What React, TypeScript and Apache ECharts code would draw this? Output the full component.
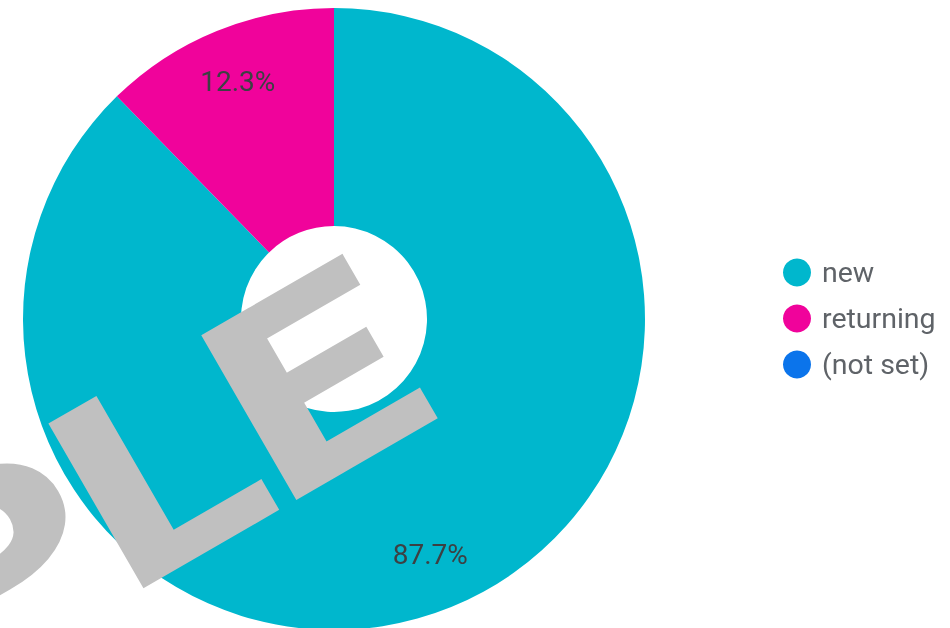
import React, { useEffect, useRef } from "react";
import * as echarts from "echarts";

const categories = ["new", "returning", "(not set)"];
const values = [87.7, 12.3, 0];
const colors = ["#00b7cd", "#f0039b", "#0b74eb"];
const watermarkText = "SAMPLE";

export default function App() {
  const ref = useRef<HTMLDivElement>(null);
  useEffect(() => {
    if (!ref.current) return;
    const chart = echarts.init(ref.current, null, { renderer: "svg" });
    const total = values.reduce((a, b) => a + b, 0);
    const data = categories.map((name, i) => ({
      name,
      value: values[i],
      itemStyle: { color: colors[i] },
    }));
    chart.setOption({
      animation: false,
      textStyle: { fontFamily: "Roboto" },
      legend: {
        orient: "vertical",
        left: 783,
        top: 258,
        padding: 0,
        icon: "circle",
        itemWidth: 28,
        itemHeight: 28,
        itemGap: 17,
        data: categories,
        textStyle: {
          fontSize: 28.5,
          color: "#5f6368",
          fontFamily: "Roboto",
          lineHeight: 28,
          padding: [0, 0, 0, 6],
        },
      },
      series: [
        {
          type: "pie",
          radius: [93, 311],
          center: [334, 319],
          startAngle: 90,
          clockwise: true,
          data,
          label: { show: false },
          labelLine: { show: false },
          silent: true,
        },
        {
          type: "pie",
          radius: [194, 311],
          center: [334, 318],
          startAngle: 90,
          clockwise: true,
          silent: true,
          legendHoverLink: false,
          data: categories.map((name, i) => ({
            name,
            value: values[i],
            itemStyle: { color: "rgba(0,0,0,0)" },
          })),
          label: {
            show: true,
            position: "inside",
            fontSize: 28,
            fontFamily: "Roboto",
            color: "#3c4043",
            formatter: (p: any) =>
              p.value > 0 ? ((p.value / total) * 100).toFixed(1) + "%" : "",
          },
          labelLine: { show: false },
        },
      ],
      graphic: [
        {
          type: "text",
          x: 395,
          y: 337.5,
          rotation: (30 * Math.PI) / 180,
          scaleX: 1.26,
          scaleY: 1,
          z: 100,
          silent: true,
          style: {
            text: watermarkText,
            x: 0,
            y: 0,
            textAlign: "right",
            textVerticalAlign: "middle",
            fill: "#c0c0c0",
            stroke: "#c0c0c0",
            lineWidth: 6,
            font: "bold 259px Roboto",
          },
        },
      ],
    });
    return () => chart.dispose();
  }, []);
  return (
    <div
      ref={ref}
      style={{ position: "fixed", left: 0, top: 0, width: 950, height: 628 }}
    />
  );
}
